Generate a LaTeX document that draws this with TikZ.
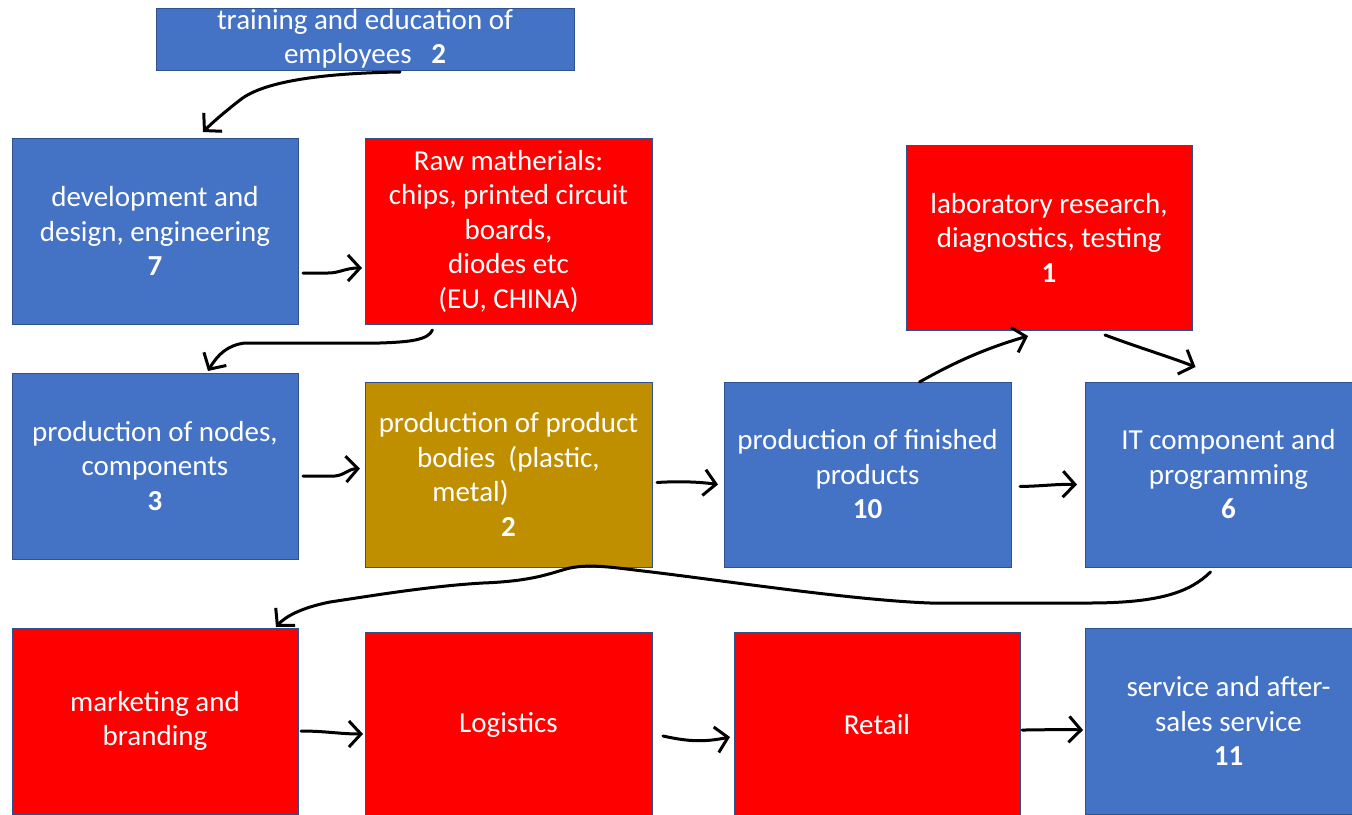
\documentclass[tikz,border=0pt]{standalone}
\usepackage{fontspec}
\setmainfont{Carlito}
\usetikzlibrary{arrows.meta}
\definecolor{boxblue}{HTML}{4472C4}
\definecolor{boxred}{HTML}{FF0000}
\definecolor{boxgold}{HTML}{BF8F00}
\definecolor{boxedge}{HTML}{2F528F}
\tikzset{
  box/.style={draw=boxedge, line width=1pt, inner sep=0pt, outer sep=0pt,
    text=white, align=center, font=\fontsize{29}{34.5}\selectfont},
  stdbox/.style={box, minimum width=286pt, minimum height=186pt},
  hand/.style={draw=black, line width=3pt, line cap=round, line join=round,
    -{Straight Barb[length=12pt, width=26pt, line width=3pt]}},
}
\begin{document}
\begin{tikzpicture}[x=1pt,y=-1pt]
\useasboundingbox (0,0) rectangle (1352,814);
\clip (0,0) rectangle (1352,814);

% boxes
\node[box, fill=boxblue, minimum width=418pt, minimum height=62pt] (train) at (365,39)
  {training and education of\\employees\ \ \ \textbf{2}};
\node[stdbox, fill=boxblue] (dev) at (155,231)
  {development and\\design, engineering\\\textbf{7}};
\node[stdbox, fill=boxred, minimum width=287pt] (raw) at (508.5,231)
  {Raw matherials:\\chips, printed circuit\\boards,\\diodes etc\\(EU, CHINA)};
\node[stdbox, fill=boxred, minimum height=185pt] (lab) at (1049,237.5)
  {laboratory research,\\diagnostics, testing\\\textbf{1}};
\node[stdbox, fill=boxblue] (nodes) at (155,466)
  {production of nodes,\\components\\\textbf{3}};
\node[stdbox, fill=boxgold, minimum width=287pt, minimum height=185pt] (bodies) at (508.5,474.5)
  {production of product\\bodies\ \ (plastic,\\metal)\rule{76pt}{0pt}\\\textbf{2}};
\node[stdbox, fill=boxblue, minimum width=287pt, minimum height=185pt] (finished) at (867.5,474.5)
  {production of finished\\products\\\textbf{10}};
\node[stdbox, fill=boxblue, minimum width=287pt, minimum height=185pt] (it) at (1228.5,474.5)
  {IT component and\\programming\\\textbf{6}};
\node[stdbox, fill=boxred] (marketing) at (155,721)
  {marketing and\\branding};
\node[stdbox, fill=boxred, minimum width=287pt] (logistics) at (508.5,725)
  {Logistics};
\node[stdbox, fill=boxred] (retail) at (877,725)
  {Retail};
\node[stdbox, fill=boxblue, minimum width=287pt] (service) at (1228.5,721)
  {service and after-\\sales service\\\textbf{11}};

% hand-drawn connectors
\draw[hand] ([xshift=35pt,yshift=-2pt]train.south)
  .. controls (330,73) and (265,80) .. (240,100)
  .. controls (226,111) and (214,121) .. ([xshift=48pt,yshift=6pt]dev.north);
\draw[hand] ([xshift=5pt,yshift=-42pt]dev.east) -- (328,273)
  .. controls (340,273) and (345,268) .. ([xshift=-3pt,yshift=-37pt]raw.west);
\draw[hand] ([xshift=-76pt,yshift=-6pt]raw.south)
  .. controls (428,340) and (410,342) .. (380,343) -- (245,343)
  .. controls (228,345) and (218,354) .. ([xshift=53pt,yshift=2pt]nodes.north);
\draw[hand] ([xshift=5pt,yshift=-10pt]nodes.east) -- (335,476)
  .. controls (345,475) and (348,469) .. ([xshift=-5pt,yshift=6pt]bodies.west);
\draw[hand] ([xshift=5pt,yshift=-8pt]bodies.east)
  .. controls (680,481) and (700,482) .. ([xshift=-6pt,yshift=-10pt]finished.west);
\draw[hand] ([xshift=9pt,yshift=-12pt]finished.east)
  .. controls (1045,486) and (1055,484) .. ([xshift=-8pt,yshift=-10pt]it.west);
\draw[hand] ([xshift=52pt]finished.north)
  .. controls (950,365) and (980,350) .. ([xshift=-21pt,yshift=-6pt]lab.south);
\draw[hand] ([xshift=56pt,yshift=-5pt]lab.south)
  .. controls (1140,348) and (1170,357) .. ([xshift=-33pt,yshift=15pt]it.north);
\draw[hand] ([xshift=-18pt,yshift=-5pt]it.south)
  .. controls (1190,592) and (1160,603) .. (1089,603) -- (930,603)
  .. controls (850,600) and (720,580) .. (643,571)
  .. controls (610,567) and (590,564) .. (570,568)
  .. controls (550,573) and (535,581) .. (483,583)
  .. controls (430,586) and (370,596) .. (330,602)
  .. controls (300,608) and (285,617) .. ([xshift=121pt,yshift=1pt]marketing.north);
\draw[hand] ([xshift=3pt,yshift=-10pt]marketing.east)
  .. controls (325,731) and (340,734) .. ([xshift=-2pt,yshift=-9pt]logistics.west);
\draw[hand] ([xshift=11pt,yshift=-11pt]logistics.east)
  .. controls (690,742) and (705,742) .. ([xshift=-4pt,yshift=-12pt]retail.west);
\draw[hand] ([xshift=2pt,yshift=-5pt]retail.east)
  .. controls (1045,730) and (1060,729) .. ([xshift=-2pt,yshift=-9pt]service.west);
\end{tikzpicture}
\end{document}
